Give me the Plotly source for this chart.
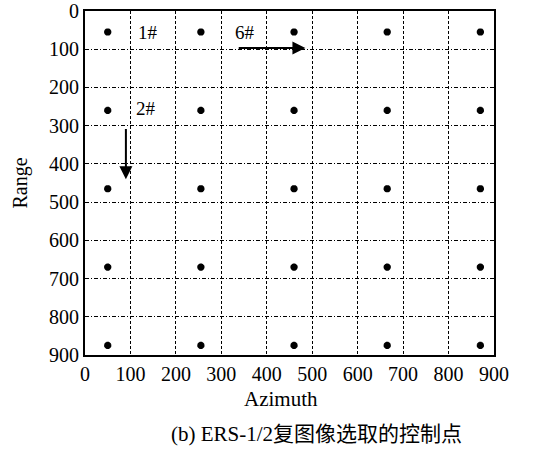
import plotly.graph_objects as go

# Control point grid (azimuth, range)
azimuth_cols = [50, 255, 460, 665, 870]
range_rows = [55, 260, 465, 670, 875]
tick_vals = [0, 100, 200, 300, 400, 500, 600, 700, 800, 900]

labels_text = ["1#", "6#", "2#", "24#", "25#"]
labels_x = [112, 325, 108, 920, 920]
labels_y = [55, 55, 255, 670, 875]

# arrows: (x_start, y_start, x_end, y_end)
arrow_6 = [335, 97, 485, 97]
arrow_2 = [90, 305, 90, 440]

px, py = [], []
for r in range_rows:
    for a in azimuth_cols:
        px.append(a)
        py.append(r)

FONT = "Liberation Serif, Times New Roman, serif"

fig = go.Figure()
fig.add_trace(go.Scatter(
    x=px, y=py, mode="markers",
    marker=dict(symbol="asterisk", size=6, color="black",
                line=dict(color="black", width=2.5)),
    showlegend=False, hoverinfo="skip"))

ann = []
for t, x, y in zip(labels_text, labels_x, labels_y):
    ann.append(dict(x=x, y=y, xref="x", yref="y", text=t, showarrow=False,
                    xanchor="left", yanchor="middle",
                    font=dict(family=FONT, size=19, color="black")))
for a in (arrow_6, arrow_2):
    ann.append(dict(x=a[2], y=a[3], ax=a[0], ay=a[1], xref="x", yref="y",
                    axref="x", ayref="y", text="", showarrow=True,
                    arrowhead=2, arrowsize=1.3, arrowwidth=2, arrowcolor="black"))
ann.append(dict(x=-0.16, y=0.5, xref="paper", yref="paper", text="Range",
                textangle=-90, showarrow=False, xanchor="center", yanchor="middle",
                font=dict(family=FONT, size=20, color="black")))
ann.append(dict(x=0.48, y=-0.128, xref="paper", yref="paper", text="Azimuth",
                showarrow=False, xanchor="center", yanchor="middle",
                font=dict(family=FONT, size=21, color="black")))
ann.append(dict(x=0.567, y=-0.23, xref="paper", yref="paper",
                text="(b) ERS-1/2复图像选取的控制点",
                showarrow=False, xanchor="center", yanchor="middle",
                font=dict(family="Liberation Serif, Noto Sans CJK SC", size=21, color="black")))

fig.update_layout(
    width=543, height=449,
    margin=dict(l=85, r=49, t=11, b=94, autoexpand=False),
    paper_bgcolor="white", plot_bgcolor="white",
    annotations=ann,
    font=dict(family=FONT, size=20, color="black"),
)
fig.update_xaxes(range=[0, 900], tickvals=tick_vals, ticks="", showline=True,
                 linecolor="black", linewidth=2, mirror=True, automargin=False,
                 showgrid=True, gridcolor="black", gridwidth=1, griddash="3px,2px",
                 zeroline=False, tickfont=dict(family=FONT, size=20))
fig.update_yaxes(range=[900, 0], tickvals=tick_vals, ticks="", showline=True,
                 linecolor="black", linewidth=2, mirror=True, automargin=False,
                 showgrid=True, gridcolor="black", gridwidth=1,
                 griddash="4px,2px,1px,2px",
                 zeroline=False, tickfont=dict(family=FONT, size=20))

fig.write_html("out.html")
